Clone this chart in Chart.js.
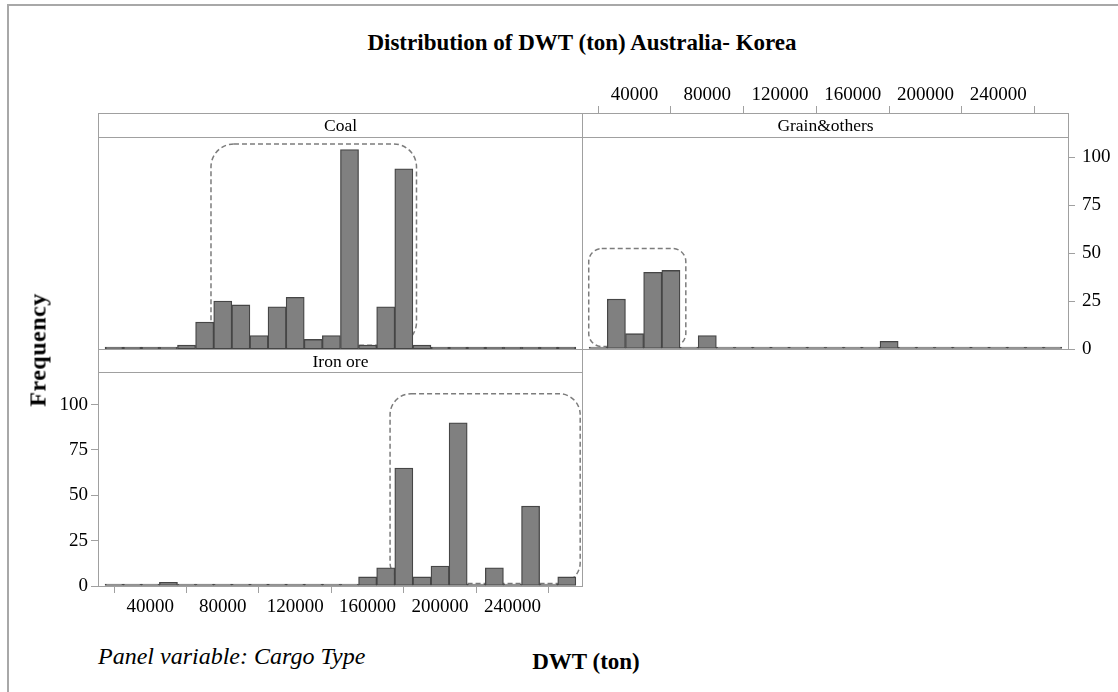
<!DOCTYPE html>
<html lang="en">
<head>
<meta charset="UTF-8">
<title>Distribution of DWT (ton) Australia- Korea</title>
<script src="https://cdn.jsdelivr.net/npm/chart.js"></script>
<style>
  * { margin: 0; padding: 0; box-sizing: border-box; }
  body {
    width: 1118px; height: 692px; position: relative; overflow: hidden;
    background: #fff; color: #000;
    font-family: 'Liberation Serif', 'Times New Roman', serif;
  }
  .abs { position: absolute; }
  #frame { left: 7px; top: 4px; width: 1200px; height: 800px;
           border-left: 2px solid #a8a8a8; border-top: 2px solid #a8a8a8; }
  #title { left: 0; width: 1164px; top: 30px; text-align: center;
           font-weight: bold; font-size: 23px; line-height: 26px; }
  .panel { border: 1px solid #a0a0a0; }
  .head { left: 0; top: 0; width: 100%; height: 24px; border-bottom: 1px solid #a0a0a0;
          text-align: center; font-size: 17.5px; line-height: 23px; }
  #ylab { left: 38px; top: 350px; transform: translate(-50%, -50%) rotate(-90deg);
          font-weight: bold; font-size: 24px; white-space: nowrap; letter-spacing: 0.5px; }
  #xlab { left: 486px; width: 200px; top: 650px; text-align: center;
          font-weight: bold; font-size: 23px; line-height: 23px; }
  #note { left: 98px; top: 644px; font-style: italic; font-size: 24px; line-height: 24px; white-space: nowrap; }
  canvas { position: absolute; }
</style>
</head>
<body>
<div id="frame" class="abs"></div>
<div id="title" class="abs">Distribution of DWT (ton) Australia- Korea</div>

<canvas id="coal" width="484" height="212" style="left:98px; top:137px;"></canvas>
<canvas id="grain" width="536" height="319" style="left:582px; top:60px;"></canvas>
<canvas id="iron" width="570" height="250" style="left:20px; top:371px;"></canvas>

<div class="abs panel" style="left:98px; top:113px; width:485px; height:237px;">
  <div class="abs head">Coal</div>
</div>
<div class="abs panel" style="left:582px; top:113px; width:487px; height:237px;">
  <div class="abs head">Grain&amp;others</div>
</div>
<div class="abs panel" style="left:98px; top:349px; width:485px; height:238px;">
  <div class="abs head" style="height:23px; line-height:22px;">Iron ore</div>
</div>

<div id="ylab" class="abs">Frequency</div>
<div id="xlab" class="abs">DWT (ton)</div>
<div id="note" class="abs">Panel variable: Cargo Type</div>

<script>
// bin centres (DWT, ton), bins are 10000 wide
const binCenters = [20000, 30000, 40000, 50000, 60000, 70000, 80000, 90000, 100000, 110000,
                    120000, 130000, 140000, 150000, 160000, 170000, 180000, 190000, 200000, 210000,
                    220000, 230000, 240000, 250000, 260000, 270000];
const coalCounts  = [0, 1, 0, 0, 2, 14, 25, 23, 7, 22, 27, 5, 7, 104, 2, 22, 94, 2, 0, 1, 0, 0, 0, 0, 0, 0];
const grainCounts = [1, 26, 8, 40, 41, 0, 7, 0, 0, 0, 0, 0, 0, 0, 0, 0, 4, 0, 0, 1, 0, 0, 0, 0, 0, 0];
const ironCounts  = [1, 1, 0, 2, 1, 0, 1, 0, 0, 0, 0, 0, 0, 1, 5, 10, 65, 5, 11, 90, 0, 10, 0, 44, 0, 5];
const xTicks = [40000, 80000, 120000, 160000, 200000, 240000];
const yTicks = [0, 25, 50, 75, 100];

// dashed highlight boxes: [xFrom, xTo, yFrom, yTo] in data units
const coalBox  = [73500, 187000, 2, 107];
const grainBox = [14800, 68200, 1.3, 52.4];
const ironBox  = [172400, 277400, 1.4, 106];

const X_MIN = 11100, X_MAX = 278400, Y_MAX = 110.6;
// grain panel chart area also covers its header strip (113..349 vs 137..349)
const GRAIN_Y_MAX = Y_MAX * (349 - 113) / (349 - 137);

const tickFont = { family: "'Liberation Serif', 'Times New Roman', serif", size: 19 };

const dashBox = {
  id: 'dashBox',
  beforeDatasetsDraw(chart, args, opts) {
    const b = opts.box;
    if (!b) return;
    const { x, y } = chart.scales;
    const l = x.getPixelForValue(b[0]), r = x.getPixelForValue(b[1]);
    const bot = y.getPixelForValue(b[2]), top = y.getPixelForValue(b[3]);
    const ctx = chart.ctx;
    ctx.save();
    ctx.setLineDash([5, 3]);
    ctx.strokeStyle = '#7c7c7c';
    ctx.lineWidth = 1.5;
    ctx.beginPath();
    ctx.roundRect(l, top, r - l, bot - top, opts.radius);
    ctx.stroke();
    ctx.restore();
  }
};

function keepTicks(list) {
  return scale => { scale.ticks = list.map(v => ({ value: v })); };
}
const plain = v => String(v);

function makeHist(id, counts, box, radius, xOpt, yOpt, padding) {
  new Chart(document.getElementById(id), {
    type: 'bar',
    data: {
      datasets: [{
        data: binCenters.map((c, i) => ({ x: c, y: counts[i] })),
        backgroundColor: '#808080',
        borderColor: '#464646',
        borderWidth: 1.3,
        borderSkipped: false,
        minBarLength: 2,
        barPercentage: 1,
        categoryPercentage: 1
      }]
    },
    options: {
      responsive: false,
      animation: false,
      layout: { padding: padding },
      plugins: {
        legend: { display: false },
        tooltip: { enabled: false },
        dashBox: { box: box, radius: radius }
      },
      scales: {
        x: Object.assign({ type: 'linear', min: X_MIN, max: X_MAX, offset: false }, xOpt),
        y: Object.assign({ min: 0, max: Y_MAX }, yOpt)
      }
    },
    plugins: [dashBox]
  });
}

const tickGrid = { display: true, drawOnChartArea: false, drawTicks: true, tickLength: 7, color: '#a0a0a0', lineWidth: 1 };
const axisBorder = { display: true, color: '#a0a0a0', width: 1 };

// Coal: no axes of its own
makeHist('coal', coalCounts, coalBox, 23,
  { display: false },
  { display: false },
  0);

// Grain&others: x axis on top, y axis on right
makeHist('grain', grainCounts, grainBox, 13,
  {
    display: true, position: 'top',
    grid: tickGrid, border: axisBorder,
    ticks: { font: tickFont, color: '#000', padding: 0, maxRotation: 0, autoSkip: false, callback: plain },
    afterBuildTicks: keepTicks(xTicks),
    afterFit: s => { s.height = 53; }
  },
  {
    display: true, position: 'right', max: GRAIN_Y_MAX,
    grid: tickGrid, border: axisBorder,
    ticks: { font: tickFont, color: '#000', padding: 7, callback: plain },
    afterBuildTicks: keepTicks(yTicks),
    afterFit: s => { s.width = 50; }
  },
  { left: 0, right: 0, top: 0, bottom: 30 });

// Iron ore: y axis left, x axis bottom
makeHist('iron', ironCounts, ironBox, 21,
  {
    display: true, position: 'bottom',
    grid: tickGrid, border: axisBorder,
    ticks: { font: tickFont, color: '#000', padding: 3, maxRotation: 0, autoSkip: false, callback: plain },
    afterBuildTicks: keepTicks(xTicks),
    afterFit: s => { s.height = 35; }
  },
  {
    display: true, position: 'left',
    grid: tickGrid, border: axisBorder,
    ticks: { font: tickFont, color: '#000', padding: 3, callback: plain },
    afterBuildTicks: keepTicks(yTicks),
    afterFit: s => { s.width = 78; }
  },
  { left: 0, right: 8, top: 0, bottom: 0 });
</script>
</body>
</html>
